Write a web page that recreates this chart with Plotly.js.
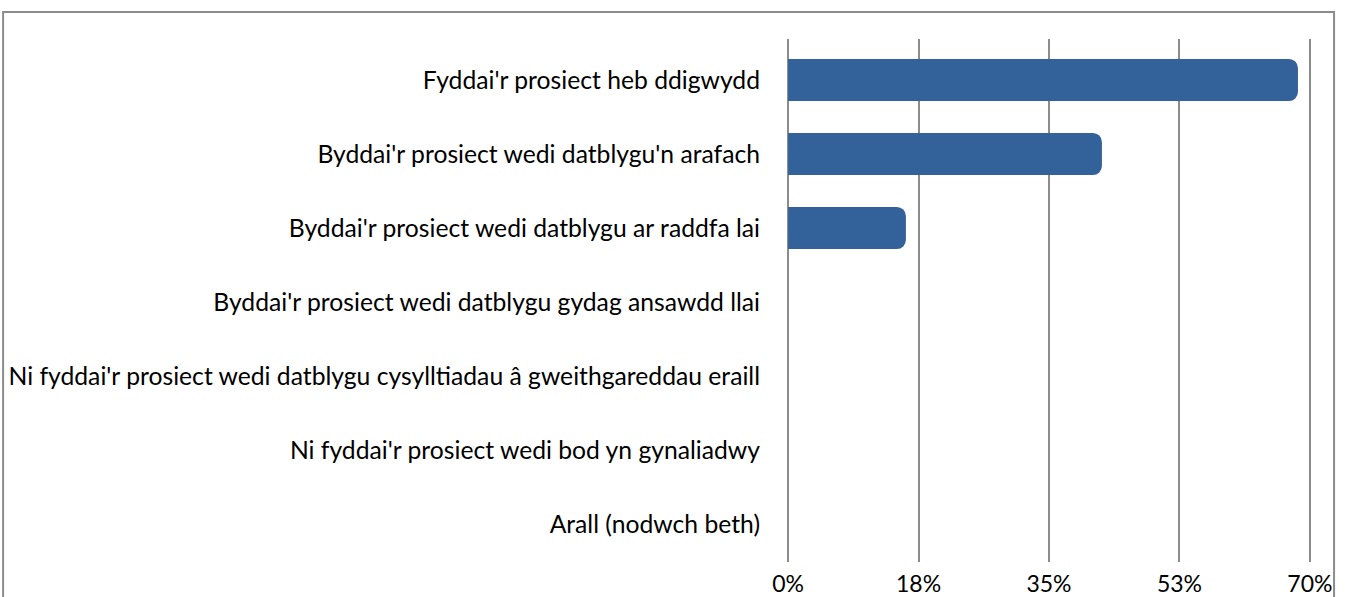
<!DOCTYPE html>
<html>
<head>
<meta charset="utf-8">
<script src="https://cdn.plot.ly/plotly-3.0.1.min.js"></script>
<style>
  html, body { margin: 0; padding: 0; background: #fff; }
  #graph { width: 1348px; height: 597px; }
</style>
</head>
<body>
<div id="graph"></div>
<script>
// answers, top to bottom as drawn
var categories = [
  "Fyddai'r prosiect heb ddigwydd",
  "Byddai'r prosiect wedi datblygu'n arafach",
  "Byddai'r prosiect wedi datblygu ar raddfa lai",
  "Byddai'r prosiect wedi datblygu gydag ansawdd llai",
  "Ni fyddai'r prosiect wedi datblygu cysylltiadau â gweithgareddau eraill",
  "Ni fyddai'r prosiect wedi bod yn gynaliadwy",
  "Arall (nodwch beth)"
];
var percents = [68.4, 42.1, 15.8, 0, 0, 0, 0];

var tickVals = [0, 17.5, 35, 52.5, 70];
var tickText = ['0%', '18%', '35%', '53%', '70%'];

var trace1 = {
  type: 'bar',
  orientation: 'h',
  y: [0, 1, 2, 3, 4, 5, 6],
  x: percents,
  width: 0.57,
  marker: {color: '#336199', cornerradius: 9},
  hoverinfo: 'x'
};

var layout = {
  width: 1348,
  height: 597,
  margin: {l: 787, r: 37, t: 39, b: 35},
  paper_bgcolor: '#fff',
  plot_bgcolor: '#fff',
  showlegend: false,
  font: {family: 'Lato, sans-serif', size: 24.7, color: '#000'},
  xaxis: {
    range: [-0.15, 70.15],
    tickvals: tickVals,
    ticktext: tickText,
    tickfont: {size: 23},
    showgrid: true,
    gridcolor: '#8c8c8c',
    gridwidth: 2,
    zeroline: false,
    showline: false,
    ticks: '',
    ticklabelstandoff: 6,
    fixedrange: true
  },
  yaxis: {
    range: [6.514, -0.554],
    tickvals: [0, 1, 2, 3, 4, 5, 6],
    ticktext: categories,
    showgrid: false,
    zeroline: false,
    showline: false,
    ticks: '',
    ticklabelstandoff: 26,
    fixedrange: true
  },
  shapes: [{
    type: 'rect',
    xref: 'paper', yref: 'paper',
    x0: -1.496, x1: 1.044,
    y0: -0.2, y1: 1.0516,
    line: {color: '#8c8c8c', width: 2},
    layer: 'below'
  }]
};

Plotly.newPlot('graph', [trace1], layout, {displayModeBar: false, staticPlot: true});
</script>
</body>
</html>
